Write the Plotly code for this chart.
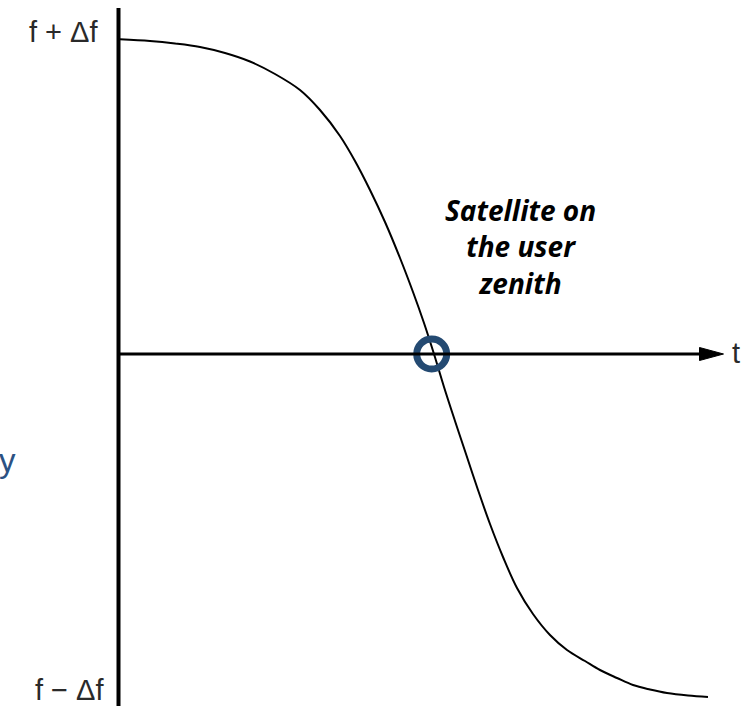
import plotly.graph_objects as go

# Doppler frequency curve: time offset from origin and frequency offset
t_vals = [1.5, 31.5, 56.5, 81.5, 106.5, 131.5, 156.5, 181.5, 201.5, 221.5, 236.5, 251.5,
          266.5, 281.5, 294.5, 305.5, 315.5, 325.5, 336.5, 347.5, 359.5, 371.5, 384.5,
          398.5, 414.5, 431.5, 448.5, 466.5, 481.5, 498.5, 514.5, 531.5, 548.5, 569.5, 589.5]
f_vals = [314.7, 313.0, 310.5, 307.0, 301.0, 292.5, 280.0, 264.0, 244.0, 218.0, 193.0, 164.0,
          132.0, 96.0, 62.0, 31.0, 0.0, -33.0, -67.0, -100.0, -136.0, -170.0, -203.0,
          -234.0, -260.0, -281.0, -296.0, -307.0, -316.0, -324.0, -331.0, -335.5, -339.0,
          -341.5, -343.0]

zenith_t = [313.2]
zenith_f = [0.0]

y_tick_labels = ["f + \u0394f", "f \u2212 \u0394f"]
x_label = "t"
note = "Satellite on<br>the user<br>zenith"

T_AXIS_END = 581
T_ARROW_TIP = 605

fig = go.Figure()
fig.add_trace(go.Scatter(x=t_vals, y=f_vals, mode="lines",
                         line=dict(color="black", width=2, shape="spline", smoothing=1.0),
                         hoverinfo="skip", showlegend=False))
fig.add_trace(go.Scatter(x=zenith_t, y=zenith_f, mode="markers",
                         marker=dict(size=30, color="rgba(0,0,0,0)",
                                     line=dict(color="#244a72", width=7)),
                         hoverinfo="skip", showlegend=False))

# axes
fig.add_shape(type="line", x0=0, x1=0, y0=-360, y1=346, line=dict(color="black", width=4))
fig.add_shape(type="line", x0=0, x1=T_AXIS_END + 2, y0=0, y1=0, line=dict(color="black", width=3))
fig.add_shape(type="path",
              path=f"M {T_AXIS_END} -6.5 L {T_ARROW_TIP} 0 L {T_AXIS_END} 6.5 Z",
              fillcolor="black", line=dict(color="black", width=1))

txt_font = dict(family="Liberation Sans, Arial, sans-serif", size=29, color="#2a2a2a")
fig.add_annotation(x=-55, y=322, text=y_tick_labels[0], showarrow=False, font=txt_font,
                   xanchor="center", yanchor="middle")
fig.add_annotation(x=-49.5, y=-336, text=y_tick_labels[1], showarrow=False, font=txt_font,
                   xanchor="center", yanchor="middle")
fig.add_annotation(x=617.5, y=1, text=x_label, showarrow=False, font=txt_font,
                   xanchor="center", yanchor="middle")
fig.add_annotation(x=401.5, y=108, text="<b><i>" + note + "</i></b>", showarrow=False,
                   font=dict(family="Open Sans, sans-serif", size=28, color="black"),
                   xanchor="center", yanchor="middle", align="center")
fig.add_annotation(x=-111, y=-106, text="y", showarrow=False,
                   font=dict(family="Liberation Sans, Arial, sans-serif", size=33, color="#2b5283"),
                   xanchor="center", yanchor="middle")

fig.update_layout(
    width=746, height=706,
    margin=dict(l=0, r=0, t=0, b=0),
    paper_bgcolor="white", plot_bgcolor="white",
    xaxis=dict(range=[-118.5, 627.5], visible=False, fixedrange=True),
    yaxis=dict(range=[-352, 354], visible=False, fixedrange=True),
)
fig.write_html("out.html", config={"displayModeBar": False},
               post_script="document.body.style.margin='0';")
